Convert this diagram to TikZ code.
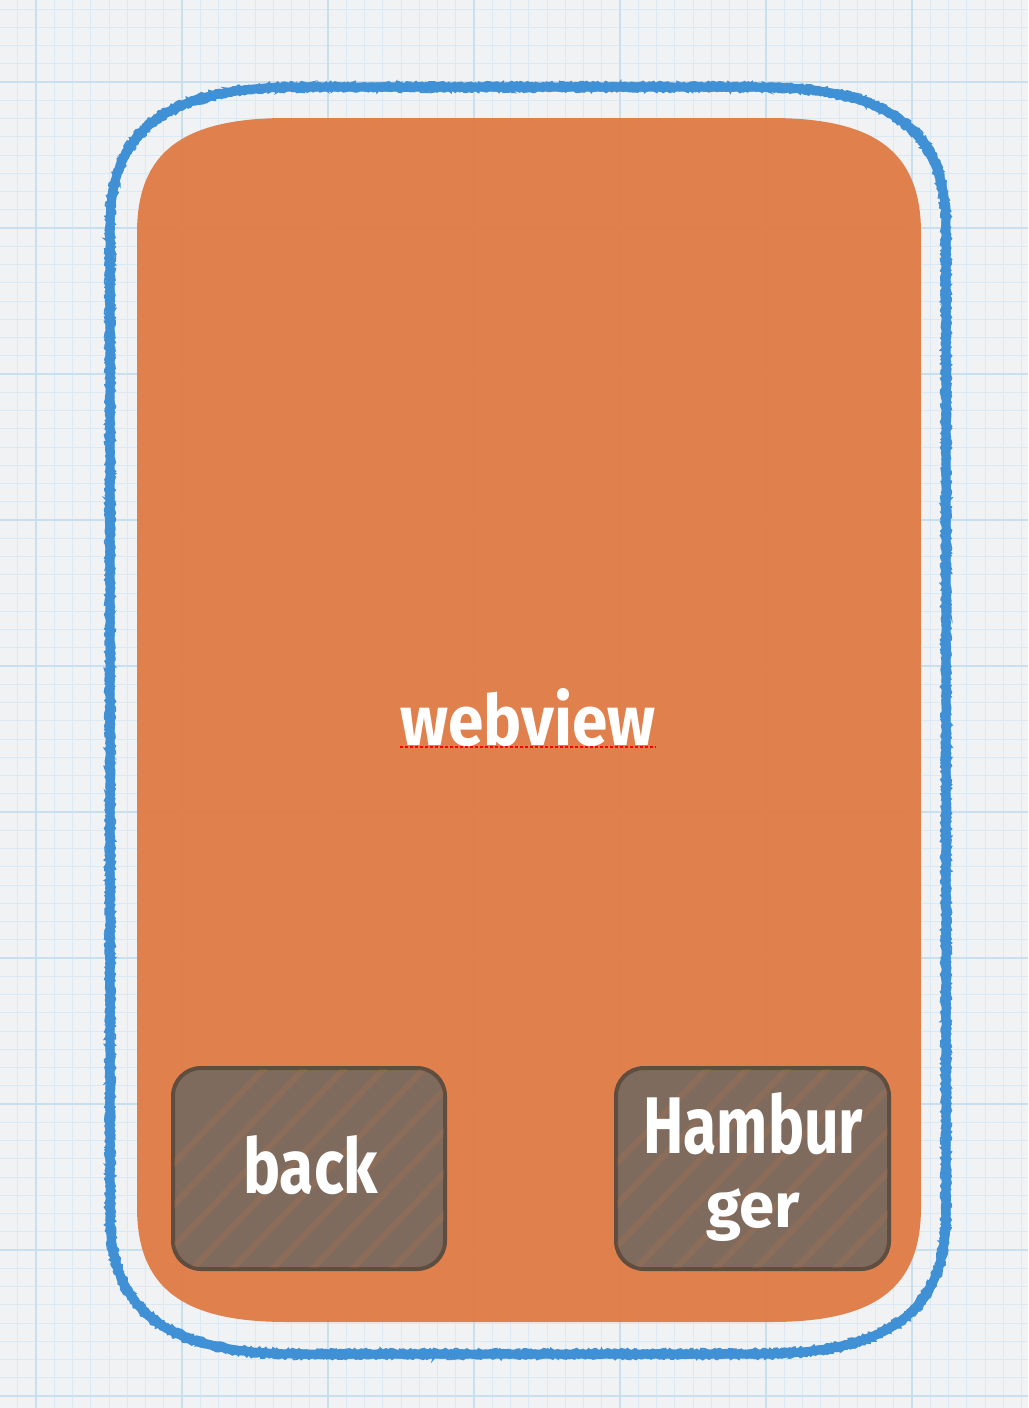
\documentclass[tikz,border=0pt]{standalone}
\usepackage{fontspec}
\setmainfont{Fira Sans}
\usepackage{graphicx}
\usetikzlibrary{decorations.pathmorphing}
\definecolor{paper}{RGB}{241,242,243}
\definecolor{gridminor}{RGB}{218,233,243}
\definecolor{gridmajor}{RGB}{200,223,238}
\definecolor{crayon}{RGB}{64,144,214}
\definecolor{webor}{RGB}{224,123,69}
\definecolor{btnfill}{RGB}{126,107,93}
\definecolor{btnline}{RGB}{95,77,63}
% rounded rectangle path: left, top, right, bottom, rx, ry (image coordinates)
\newcommand{\rrectpath}[6]{({#1},{#2+#6}) .. controls ({#1},{#2+0.3*#6}) and ({#1+0.3*#5},{#2}) .. ({#1+#5},{#2})
  -- ({#3-#5},{#2}) .. controls ({#3-0.3*#5},{#2}) and ({#3},{#2+0.3*#6}) .. ({#3},{#2+#6})
  -- ({#3},{#4-#6}) .. controls ({#3},{#4-0.3*#6}) and ({#3-0.3*#5},{#4}) .. ({#3-#5},{#4})
  -- ({#1+#5},{#4}) .. controls ({#1+0.3*#5},{#4}) and ({#1},{#4-0.3*#6}) .. ({#1},{#4-#6}) -- cycle}
\tikzset{
  minorline/.style={gridminor, line width=0.9pt},
  majorline/.style={gridmajor, line width=2pt},
  crayonmain/.style={crayon, line width=9pt, line join=round},
  crayonrough/.style={crayon, line width=1.8pt, decorate,
      decoration={random steps, segment length=2pt, amplitude=1.4pt}},
  webbox/.style={fill=webor, fill opacity=0.95, draw=none},
  btn/.style={draw=btnline, line width=4pt, fill=btnfill, rounded corners=28pt, inner sep=0pt},
  lbl/.style={text=white, font=\bfseries, inner sep=0pt},
  spell/.style={red, line width=2pt, dash pattern=on 3pt off 2pt}
}
\begin{document}
\begin{tikzpicture}[x=1pt,y=-1pt]
\useasboundingbox (0,0) rectangle (1028,1408);
\fill[paper] (0,0) rectangle (1028,1408);
% grid
\foreach \i in {-2,...,56} \draw[minorline] ({36+18.25*\i},0) -- ++(0,1408);
\foreach \i in {-5,...,73} \draw[minorline] (0,{82+18.25*\i}) -- ++(1028,0);
\foreach \k in {0,...,6} \draw[majorline] ({36+146*\k},0) -- ++(0,1408);
\foreach \k in {0,...,9} \draw[majorline] (0,{82+146*\k}) -- ++(1028,0);
% crayon outline
\draw[crayonmain] \rrectpath{110}{87}{946}{1354}{190}{140};
\draw[crayonrough] \rrectpath{106}{83}{950}{1358}{194}{144};
\draw[crayonrough] \rrectpath{114}{91}{942}{1350}{186}{136};
\draw[crayonrough] \rrectpath{108}{85}{948}{1356}{192}{142};
\draw[crayonrough] \rrectpath{112}{89}{944}{1352}{188}{138};
% webview area
\path[webbox] \rrectpath{137}{118}{921}{1322}{150}{115};
\node[lbl, anchor=base west] (webview) at (400,745) {\resizebox{255pt}{57pt}{webview}};
\draw[spell] ([yshift=-1.5pt]webview.base west) -- ([yshift=-1.5pt]webview.base east);
% buttons
\node[btn, minimum width=272pt, minimum height=201pt] (backbtn) at (309,1168.5) {};
\node[btn, minimum width=273pt, minimum height=201pt] (hambtn) at (752.5,1168.5) {};
\begin{scope}
  \clip[rounded corners=28pt] (174,1069) rectangle (444,1268);
  \foreach \s in {0,40,...,520} \draw[webor, opacity=0.15, line width=6pt] ({172+\s-120},1290) -- ++(240,-250);
\end{scope}
\begin{scope}
  \clip[rounded corners=28pt] (617,1069) rectangle (888,1268);
  \foreach \s in {0,40,...,520} \draw[webor, opacity=0.15, line width=6pt] ({615+\s-120},1290) -- ++(240,-250);
\end{scope}
\node[lbl, anchor=base west] (back) at (243,1193) {\resizebox{135pt}{58pt}{back}};
\node[lbl, anchor=base west] (hambur) at (643,1153) {\resizebox{220pt}{61pt}{Hambur}};
\node[lbl, anchor=base west] (ger) at (706,1227) {\resizebox{94pt}{39pt}{ger}};
\end{tikzpicture}
\end{document}
